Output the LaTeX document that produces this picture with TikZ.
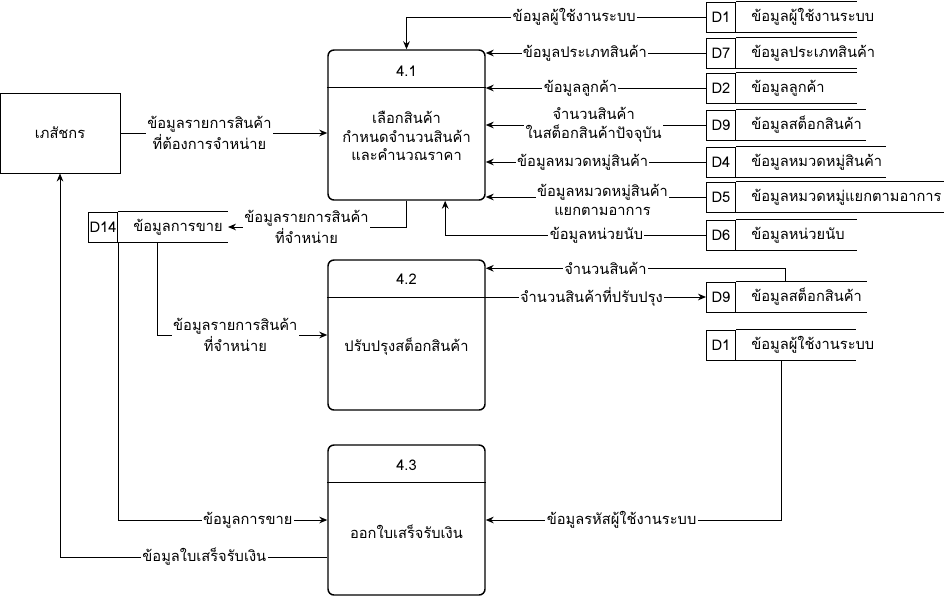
\documentclass[tikz,border=0pt]{standalone}
\usepackage{fontspec}
\setmainfont[Script=Thai]{Loma}
\usetikzlibrary{positioning,calc,arrows.meta}

\tikzset{
  every node/.style={font=\fontsize{11pt}{14pt}\selectfont},
  thinline/.style={line width=0.75pt},
  proc/.style={draw, line width=1.1pt, rounded corners=4.5pt, minimum width=117.75pt, minimum height=112.5pt, inner sep=0pt},
  entity/.style={draw, thinline, minimum width=90pt, minimum height=60pt},
  sid/.style={draw, thinline, minimum width=21.75pt, minimum height=22.5pt, inner sep=0pt, anchor=west},
  stext/.style={anchor=west, inner sep=0pt, minimum height=22.5pt, xshift=11.25pt},
  flow/.style={thinline, -{Stealth[length=6pt,width=5pt]}},
  lbl/.style={fill=white, inner sep=1pt, align=center},
}

% data store: name, west point, id, text, open length (px)
\newcommand{\datastore}[5]{%
  \node[sid] (#1) at #2 {#3};
  \node[stext] (#1t) at (#1.east) {#4};
  \coordinate (#1e) at ($(#1.east)+(#5,0)$);
  \draw[thinline] (#1.north east) -- (#1.north east -| #1e) (#1.south east) -- (#1.south east -| #1e);
}

\begin{document}
\begin{tikzpicture}[x=0.75pt, y=-0.75pt]
  \useasboundingbox (0,0) rectangle (945,597);

  % external entity
  \node[entity] (ent) at (60,133) {เภสัชกร};

  % processes
  \node[proc] (p41) at (406.5,125) {};
  \node (n41) at (406.5,71) {4.1};
  \draw[thinline] ([yshift=-28.5pt]p41.north west) -- ([yshift=-28.5pt]p41.north east);
  \node[align=center] (t41) at (406.5,136) {เลือกสินค้า\\กำหนดจำนวนสินค้า\\และคำนวณราคา};

  \node[proc] (p42) at (406.5,335) {};
  \node (n42) at (406.5,279) {4.2};
  \draw[thinline] ([yshift=-28.5pt]p42.north west) -- ([yshift=-28.5pt]p42.north east);
  \node (t42) at (406.5,347) {ปรับปรุงสต็อกสินค้า};

  \node[proc] (p43) at (406.5,520) {};
  \node (n43) at (406.5,465) {4.3};
  \draw[thinline] ([yshift=-28.5pt]p43.north west) -- ([yshift=-28.5pt]p43.north east);
  \node (t43) at (406.5,532) {ออกใบเสร็จรับเงิน};

  % data stores
  \datastore{d1}{(706,17)}{D1}{ข้อมูลผู้ใช้งานระบบ}{121}
  \datastore{d7}{(706,53)}{D7}{ข้อมูลประเภทสินค้า}{121}
  \datastore{d2}{(706,88)}{D2}{ข้อมูลลูกค้า}{121}
  \datastore{d9}{(706,125)}{D9}{ข้อมูลสต็อกสินค้า}{130}
  \datastore{d4}{(706,162)}{D4}{ข้อมูลหมวดหมู่สินค้า}{150}
  \datastore{d5}{(706,197)}{D5}{ข้อมูลหมวดหมู่แยกตามอาการ}{208}
  \datastore{d6}{(706,235)}{D6}{ข้อมูลหน่วยนับ}{121}
  \datastore{d14}{(88,227)}{D14}{ข้อมูลการขาย}{110}
  \datastore{d9b}{(706,297)}{D9}{ข้อมูลสต็อกสินค้า}{131}
  \datastore{d1b}{(706,345)}{D1}{ข้อมูลผู้ใช้งานระบบ}{120}

  % flows into 4.1
  \draw[flow] (d1.west) -| node[lbl, pos=0.22] {ข้อมูลผู้ใช้งานระบบ} (p41.north);
  \draw[flow] (d7.west) -- node[lbl, pos=0.55] {ข้อมูลประเภทสินค้า} (d7.west -| p41.east);
  \draw[flow] (d2.west) -- node[lbl, pos=0.57] {ข้อมูลลูกค้า} (d2.west -| p41.east);
  \draw[flow] (d9.west) -- node[lbl, pos=0.51] {จำนวนสินค้า\\ในสต็อกสินค้าปัจจุบัน} (d9.west -| p41.east);
  \draw[flow] (d4.west) -- node[lbl, pos=0.56] {ข้อมูลหมวดหมู่สินค้า} (d4.west -| p41.east);
  \draw[flow] (d5.west) -- node[lbl, pos=0.47, yshift=-2pt] {ข้อมูลหมวดหมู่สินค้า\\แยกตามอาการ} (d5.west -| p41.east);
  \draw[flow] (d6.west) -| node[lbl, pos=0.21] {ข้อมูลหน่วยนับ} ([xshift=29pt]p41.south);
  \draw[flow] (ent.east) -- node[lbl, pos=0.43] {ข้อมูลรายการสินค้า\\ที่ต้องการจำหน่าย} (ent.east -| p41.west);

  % flows out of 4.1 and into 4.2 / 4.3
  \draw[flow] (p41.south) |- node[lbl, pos=0.78] {ข้อมูลรายการสินค้า\\ที่จำหน่าย} (d14e);
  \draw[flow] ([xshift=29.25pt]d14.south east) |- node[lbl, pos=0.73] {ข้อมูลรายการสินค้า\\ที่จำหน่าย} (p42.west);
  \draw[flow] (d14.south east) |- node[lbl, pos=0.81] {ข้อมูลการขาย} (p43.west);
  \draw[flow] ([xshift=36.75pt]d9b.north east) |- node[lbl, pos=0.8] {จำนวนสินค้า} ([yshift=-6.75pt]p42.north east);
  \draw[flow] (d9b.west -| p42.east) -- node[lbl, pos=0.48] {จำนวนสินค้าที่ปรับปรุง} (d9b.west);
  \draw[flow] ([xshift=33.75pt]d1b.south east) |- node[lbl, pos=0.77] {ข้อมูลรหัสผู้ใช้งานระบบ} (p43.east);
  \draw[flow] ([yshift=-27.75pt]p43.west) -| node[lbl, pos=0.23] {ข้อมูลใบเสร็จรับเงิน} (ent.south);
\end{tikzpicture}
\end{document}
